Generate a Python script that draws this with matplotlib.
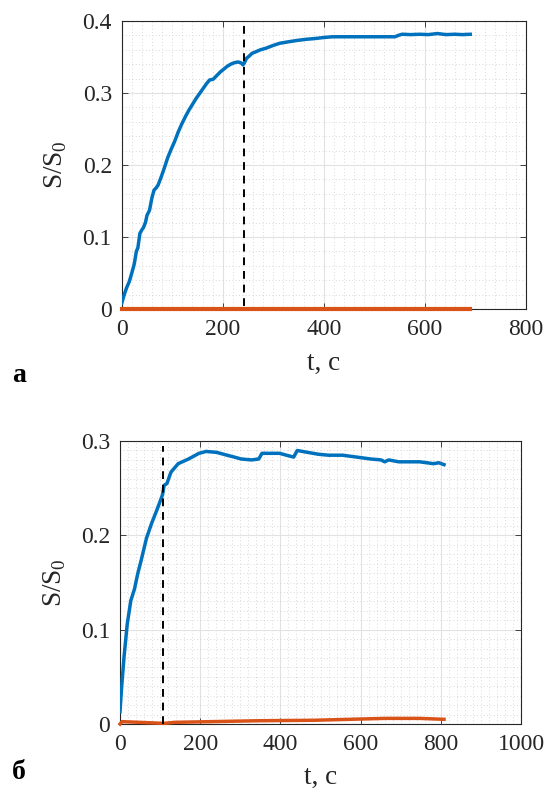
import numpy as np
import matplotlib
matplotlib.use('Agg')
import matplotlib.pyplot as plt
from matplotlib.ticker import MultipleLocator

plt.rcParams['font.family'] = ['Liberation Serif', 'DejaVu Serif']

# --- panel a data ---
a_t = [0, 5, 10, 15, 20, 25, 29, 32, 36, 40, 43, 47, 50, 55, 60, 64, 68, 72, 78, 84,
       91, 98, 105, 112, 119, 126, 133, 140, 147, 154, 161, 168, 174, 181, 188, 195,
       202, 209, 216, 223, 230, 236, 240, 243, 247, 252, 258, 265, 275, 285, 300, 313,
       330, 348, 365, 382, 400, 417, 435, 451, 480, 521, 541, 548, 555, 572, 590, 607,
       625, 642, 659, 675, 690]
a_s = [0.008, 0.020, 0.030, 0.038, 0.050, 0.063, 0.080, 0.085, 0.105, 0.110, 0.113, 0.120,
       0.130, 0.137, 0.155, 0.165, 0.168, 0.172, 0.183, 0.195, 0.210, 0.222, 0.233, 0.246,
       0.257, 0.267, 0.276, 0.284, 0.292, 0.299, 0.306, 0.313, 0.318, 0.319, 0.324, 0.329,
       0.333, 0.337, 0.340, 0.342, 0.343, 0.342, 0.339, 0.342, 0.348, 0.351, 0.355, 0.357,
       0.360, 0.362, 0.366, 0.369, 0.371, 0.373, 0.3745, 0.3755, 0.377, 0.378, 0.378, 0.378,
       0.378, 0.378, 0.378, 0.380, 0.3815, 0.381, 0.3815, 0.381, 0.3825, 0.381, 0.3815,
       0.381, 0.3815]
a_t_ref = [0, 690]
a_s_ref = [0.0, 0.0]
a_mark = 242

# --- panel б data ---
b_t = [0, 3.5, 10, 18, 27, 36, 44, 53, 66, 79, 92, 106, 110, 117, 127, 145, 171, 197,
       215, 241, 267, 285, 302, 328, 346, 354, 375, 398, 415, 433, 442, 468, 495, 520,
       555, 590, 625, 651, 660, 670, 695, 720, 747, 765, 782, 795, 808]
b_s = [0.013, 0.036, 0.071, 0.106, 0.131, 0.143, 0.159, 0.174, 0.197, 0.213, 0.227, 0.243,
       0.253, 0.255, 0.267, 0.276, 0.281, 0.287, 0.289, 0.288, 0.285, 0.283, 0.281, 0.280,
       0.281, 0.287, 0.287, 0.287, 0.285, 0.283, 0.290, 0.288, 0.286, 0.285, 0.285, 0.283,
       0.281, 0.280, 0.278, 0.280, 0.278, 0.278, 0.278, 0.277, 0.276, 0.277, 0.275]
b_t_ref = [0, 5, 49, 110, 136, 223, 346, 485, 572, 660, 747, 808]
b_s_ref = [0.0, 0.0025, 0.0018, 0.0007, 0.0018, 0.0025, 0.0035, 0.004, 0.005, 0.006, 0.006, 0.005]
b_mark = 108

blue = '#0072BD'
orange = '#D95319'
axcol = '#262626'

fig = plt.figure(figsize=(5.49, 7.90), dpi=100)
ax1 = fig.add_axes([0.2217, 0.6089, 0.736, 0.3646])
ax2 = fig.add_axes([0.2186, 0.0835, 0.7304, 0.3582])


def style(ax, xmax, ymax, ystep, yminor):
    ax.set_xlim(0, xmax)
    ax.set_ylim(0, ymax)
    ax.xaxis.set_major_locator(MultipleLocator(200))
    ax.xaxis.set_minor_locator(MultipleLocator(20))
    ax.yaxis.set_major_locator(MultipleLocator(ystep))
    ax.yaxis.set_minor_locator(MultipleLocator(yminor))
    ax.grid(which='major', color='#e2e2e2', linewidth=0.8)
    ax.grid(which='minor', color='#cdcdcd', linestyle=(0, (1, 3)), linewidth=0.6)
    ax.set_axisbelow(True)
    ax.tick_params(which='major', direction='in', top=True, right=True, length=4,
                   width=0.6, labelsize=17, colors=axcol, pad=7)
    ax.tick_params(which='minor', length=0)
    for sp in ax.spines.values():
        sp.set_color(axcol)
        sp.set_linewidth(0.8)
    ax.yaxis.set_major_formatter(matplotlib.ticker.FuncFormatter(
        lambda v, p: '0' if abs(v) < 1e-9 else f'{v:.1f}'))
    ax.set_xlabel('t, c', fontsize=19.5, color=axcol)
    ax.set_ylabel(r'S/S$_\mathregular{0}$', fontsize=19.5, color=axcol)
    ax.xaxis.set_label_coords(0.5, -0.19)
    ax.xaxis.label.set_va('center')
    ax.yaxis.set_label_coords(-0.163, 0.5)
    ax.yaxis.label.set_va('center')


style(ax1, 800, 0.4, 0.1, 0.02)
ax1.plot(a_t, a_s, color=blue, linewidth=2.5, zorder=3)
ax1.plot(a_t_ref, a_s_ref, color=orange, linewidth=3.0, zorder=3, clip_on=False)
ax1.plot([a_mark, a_mark], [0.004, 0.4], color='black', linestyle=(0, (4, 3)), linewidth=1.4, zorder=4)

style(ax2, 1000, 0.3, 0.1, 0.01)
ax2.plot(b_t, b_s, color=blue, linewidth=2.5, zorder=3)
ax2.plot(b_t_ref, b_s_ref, color=orange, linewidth=2.5, zorder=3, clip_on=False)
ax2.plot([b_mark, b_mark], [0.0, 0.295], color='black', linestyle=(0, (4, 3)), linewidth=1.4, zorder=4)

fig.text(0.035, 0.5165, 'a', fontsize=20, fontweight='bold', ha='center', va='baseline')
fig.text(0.035, 0.014, 'б', fontsize=20, fontweight='bold', ha='center', va='baseline')

fig.savefig('out.png', dpi=100)
